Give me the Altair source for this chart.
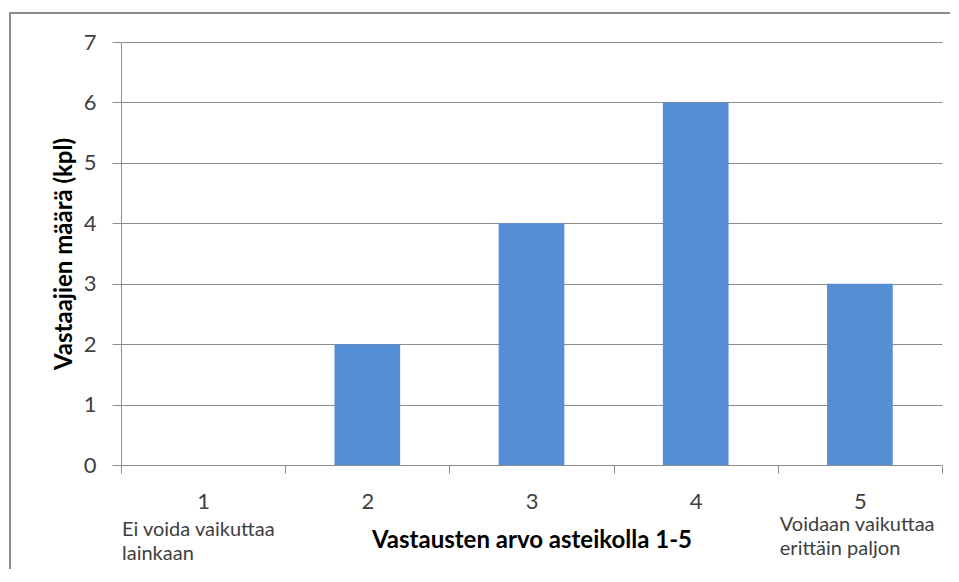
import altair as alt
import pandas as pd

categories = ["1", "2", "3", "4", "5"]
counts = [0, 2, 4, 6, 3]
y_ticks = [0, 1, 2, 3, 4, 5, 6, 7]

left_note_cat = ["1"]
left_note = [["Ei voida vaikuttaa", "lainkaan"]]
right_note_cat = ["5"]
right_note = [["Voidaan vaikuttaa", "erittäin paljon"]]

df = pd.DataFrame({"cat": categories, "n": counts})
df_left = pd.DataFrame({"cat": left_note_cat, "txt": left_note})
df_right = pd.DataFrame({"cat": right_note_cat, "txt": right_note})
df_one = pd.DataFrame({"k": [0]})

FONT = "Lato"
GRID = "#8c8c8c"

x_scale = alt.Scale(domain=categories, paddingInner=0, paddingOuter=0)

bars = alt.Chart(df).mark_bar(
    width=alt.RelativeBandSize(0.4), color="#558ED5"
).encode(
    x=alt.X("cat:N", scale=x_scale, sort=categories,
            axis=alt.Axis(title="Vastausten arvo asteikolla 1-5", labelAngle=0,
                          tickBand="extent", grid=False, tickSize=8,
                          labelPadding=18, titlePadding=16,
                          labelFontSize=22, titleFontSize=24,
                          titleFontWeight="bold")),
    y=alt.Y("n:Q", scale=alt.Scale(domain=[0, 7], nice=False),
            axis=alt.Axis(title="Vastaajien määrä (kpl)", values=y_ticks,
                          tickSize=9, labelPadding=16, titlePadding=7,
                          labelFontSize=22, titleFontSize=24,
                          titleFontWeight="bold", format="d")),
)

note_left = alt.Chart(df_left).mark_text(
    align="left", baseline="alphabetic", fontSize=20, font=FONT,
    color="#404040", lineHeight=24, dx=1
).encode(
    x=alt.X("cat:N", scale=x_scale, sort=categories, bandPosition=0),
    y=alt.value(494),
    text="txt",
)

note_right = alt.Chart(df_right).mark_text(
    align="left", baseline="alphabetic", fontSize=20, font=FONT,
    color="#404040", lineHeight=24, dx=2
).encode(
    x=alt.X("cat:N", scale=x_scale, sort=categories, bandPosition=0),
    y=alt.value(489),
    text="txt",
)

# outer chart-area frame (only its top and left sides are inside the picture)
border_top = alt.Chart(df_one).mark_rect(color="#8c8c8c", strokeWidth=0).encode(
    x=alt.value(-112), x2=alt.value(829), y=alt.value(-30), y2=alt.value(-28),
)
border_left = alt.Chart(df_one).mark_rect(color="#8c8c8c", strokeWidth=0).encode(
    x=alt.value(-112), x2=alt.value(-110), y=alt.value(-30), y2=alt.value(527),
)

chart = alt.layer(border_top, border_left, bars, note_left, note_right).properties(
    width=821, height=423,
    autosize=alt.AutoSizeParams(type="none"),
    padding={"left": 113, "top": 34, "right": 9, "bottom": 105},
).configure_view(
    stroke=None
).configure_axis(
    labelFont=FONT, titleFont=FONT, labelColor="#404040", titleColor="#000000",
    domainColor=GRID, tickColor=GRID, gridColor=GRID,
    domainWidth=1, tickWidth=1, gridWidth=1,
)

chart.save("out.html", embed_options={"renderer": "svg", "actions": False})
